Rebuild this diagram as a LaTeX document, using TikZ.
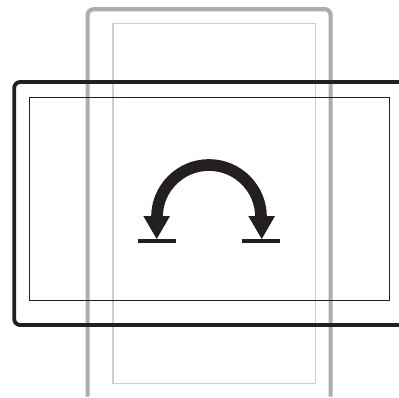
\documentclass[tikz,border=0pt]{standalone}
\definecolor{palegrey}{RGB}{172,173,176}
\definecolor{paler}{RGB}{205,206,207}
\definecolor{inkblack}{RGB}{35,31,32}
\tikzset{
  outerpale/.style={draw=palegrey,line width=4.2pt,rounded corners=6pt},
  innerpale/.style={draw=paler,line width=1.15pt},
  outerdark/.style={draw=inkblack,line width=3.9pt,rounded corners=6pt},
  innerdark/.style={draw=inkblack,line width=0.85pt},
  arcstroke/.style={draw=inkblack,line width=11.7pt},
  headfill/.style={fill=inkblack},
}
\begin{document}
\begin{tikzpicture}[x=1pt,y=-1pt]
\useasboundingbox (0,0) rectangle (399,397);
\draw[outerpale] (87.6,396.5) -- (87.6,9.2) -- (330.6,9.2) -- (330.6,396.5);
\draw[innerpale] (113,23.6) rectangle (315.8,383.8);
\draw[outerdark] (399,82) -- (14.2,82) -- (14.2,325) -- (399,325);
\draw[innerdark] (29,97.2) rectangle (389.8,300);
\draw[arcstroke] (157,217) arc[start angle=180,end angle=360,radius=52];
\fill[headfill] (143.3,216) -- (170,216) -- (156.7,239) -- cycle;
\fill[headfill] (248.3,216) -- (275,216) -- (261.7,239) -- cycle;
\fill[headfill] (137.7,238.7) rectangle (176,242.7);
\fill[headfill] (242,238.7) rectangle (280,242.7);
\end{tikzpicture}
\end{document}
